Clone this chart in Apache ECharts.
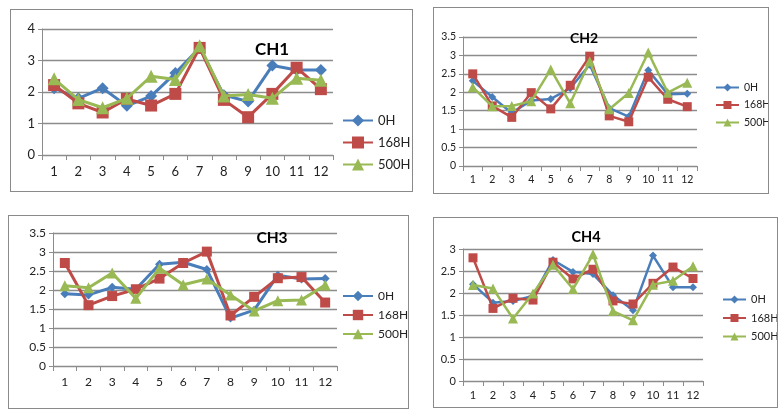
<!DOCTYPE html>
<html>
<head>
<meta charset="utf-8">
<script src="https://cdn.jsdelivr.net/npm/echarts@6/dist/echarts.min.js"></script>
<style>
  html, body { margin: 0; padding: 0; background: #fff; width: 784px; height: 414px; overflow: hidden; }
  .panel { position: absolute; border: 1px solid #8a8a8a; box-sizing: border-box; background: #fff; }
</style>
</head>
<body>
<div id="p1" class="panel" style="left:10px;top:9px;width:403px;height:183px;"></div>
<div id="p2" class="panel" style="left:433px;top:7px;width:336px;height:187px;"></div>
<div id="p3" class="panel" style="left:8px;top:215px;width:401px;height:194px;"></div>
<div id="p4" class="panel" style="left:433px;top:217px;width:345px;height:191px;"></div>
<script>
// ---- data ----
const categories = ['1','2','3','4','5','6','7','8','9','10','11','12'];
const seriesNames = ['0H','168H','500H'];

const ch1_0H   = [2.12, 1.80, 2.12, 1.56, 1.87, 2.60, 3.40, 1.90, 1.70, 2.84, 2.70, 2.70];
const ch1_168H = [2.22, 1.64, 1.35, 1.78, 1.57, 1.94, 3.40, 1.75, 1.20, 1.94, 2.77, 2.09];
const ch1_500H = [2.42, 1.76, 1.50, 1.80, 2.50, 2.40, 3.47, 1.87, 1.92, 1.80, 2.44, 2.37];

const ch2_0H   = [2.31, 1.87, 1.44, 1.78, 1.82, 2.11, 2.75, 1.57, 1.34, 2.60, 1.95, 1.96];
const ch2_168H = [2.50, 1.63, 1.32, 1.99, 1.55, 2.19, 2.98, 1.36, 1.20, 2.41, 1.81, 1.61];
const ch2_500H = [2.14, 1.62, 1.63, 1.76, 2.62, 1.70, 2.84, 1.54, 1.98, 3.08, 1.99, 2.26];

const ch3_0H   = [1.90, 1.87, 2.07, 2.02, 2.68, 2.73, 2.54, 1.26, 1.47, 2.39, 2.29, 2.30];
const ch3_168H = [2.71, 1.60, 1.84, 2.02, 2.30, 2.71, 3.01, 1.33, 1.82, 2.31, 2.34, 1.67];
const ch3_500H = [2.11, 2.06, 2.45, 1.78, 2.57, 2.14, 2.29, 1.87, 1.45, 1.72, 1.74, 2.13];

const ch4_0H   = [2.20, 1.78, 1.82, 1.93, 2.75, 2.48, 2.43, 1.95, 1.61, 2.85, 2.13, 2.13];
const ch4_168H = [2.80, 1.65, 1.88, 1.84, 2.70, 2.32, 2.54, 1.82, 1.75, 2.22, 2.59, 2.33];
const ch4_500H = [2.18, 2.10, 1.42, 1.99, 2.64, 2.09, 2.88, 1.59, 1.38, 2.19, 2.28, 2.61];

const yMax = [4, 3.5, 3.5, 3];
const yInterval = [1, 0.5, 0.5, 0.5];
const titles = ['CH1', 'CH2', 'CH3', 'CH4'];

// ---- styling ----
const colors = ['#4A7EBB', '#BE4B48', '#98B954'];
const symbols = ['diamond', 'rect', 'triangle'];
const FONT = 'Lato, "Open Sans", sans-serif';

const layouts = [
  { grid: {left: 31, top: 19, width: 291, height: 126}, font: 13, titleFont: 17, titleX: 256, titleY: 26,
    legendLeft: 326, legendTop: 99, itemW: 30, itemH: 15, gap: 9, lw: 3, sizes: [12, 12, 13], labelMargin: 10 },
  { grid: {left: 29, top: 29, width: 234, height: 129}, font: 10.5, titleFont: 14, titleX: 145, titleY: 18,
    legendLeft: 276, legendTop: 69, itemW: 23, itemH: 10, gap: 6.5, lw: 2.5, sizes: [8, 9, 10], labelMargin: 8 },
  { grid: {left: 44, top: 17, width: 284, height: 133}, font: 12, titleFont: 15.5, titleX: 258, titleY: 9,
    legendLeft: 328, legendTop: 69, itemW: 30, itemH: 13, gap: 7, lw: 3, sizes: [9, 10, 11], labelMargin: 10 },
  { grid: {left: 29, top: 31, width: 240, height: 132}, font: 11, titleFont: 14.5, titleX: 147, titleY: 7,
    legendLeft: 283, legendTop: 71, itemW: 23, itemH: 10, gap: 7.5, lw: 2.5, sizes: [8, 9, 10], labelMargin: 9 }
];

const allData = [
  [ch1_0H, ch1_168H, ch1_500H],
  [ch2_0H, ch2_168H, ch2_500H],
  [ch3_0H, ch3_168H, ch3_500H],
  [ch4_0H, ch4_168H, ch4_500H]
];

function build(i) {
  const L = layouts[i];
  const series = seriesNames.map((name, k) => ({
    name: name,
    type: 'line',
    data: allData[i][k],
    symbol: symbols[k],
    symbolSize: L.sizes[k],
    showAllSymbol: true,
    animation: false,
    lineStyle: { width: L.lw, color: colors[k] },
    itemStyle: { color: colors[k] },
    z: 2 + k
  }));
  return {
    animation: false,
    textStyle: { fontFamily: FONT },
    title: {
      text: titles[i],
      left: L.titleX,
      top: L.titleY,
      textAlign: 'center',
      textStyle: { fontSize: L.titleFont, fontWeight: 'bold', color: '#000', fontFamily: FONT }
    },
    legend: {
      orient: 'vertical',
      left: L.legendLeft,
      top: L.legendTop,
      data: seriesNames,
      itemWidth: L.itemW,
      itemHeight: L.itemH,
      itemGap: L.gap,
      textStyle: { fontSize: L.font, color: '#222', fontFamily: FONT },
      selectedMode: false
    },
    grid: Object.assign({ containLabel: false }, L.grid),
    xAxis: {
      type: 'category',
      data: categories,
      boundaryGap: true,
      axisLine: { show: true, lineStyle: { color: '#8c8c8c', width: 1 } },
      axisTick: { show: true, length: 5, lineStyle: { color: '#8c8c8c' } },
      axisLabel: { fontSize: L.font, color: '#222', margin: L.labelMargin, fontFamily: FONT, interval: 0 },
      splitLine: { show: false }
    },
    yAxis: {
      type: 'value',
      min: 0,
      max: yMax[i],
      interval: yInterval[i],
      axisLine: { show: true, lineStyle: { color: '#8c8c8c', width: 1 } },
      axisTick: { show: true, length: 4, lineStyle: { color: '#8c8c8c' } },
      axisLabel: { fontSize: L.font, color: '#222', margin: 7, fontFamily: FONT },
      splitLine: { show: true, lineStyle: { color: '#8c8c8c', width: 1.3 } }
    },
    series: series
  };
}

['p1','p2','p3','p4'].forEach((id, i) => {
  const chart = echarts.init(document.getElementById(id), null, { renderer: 'canvas' });
  chart.setOption(build(i));
});
</script>
</body>
</html>
